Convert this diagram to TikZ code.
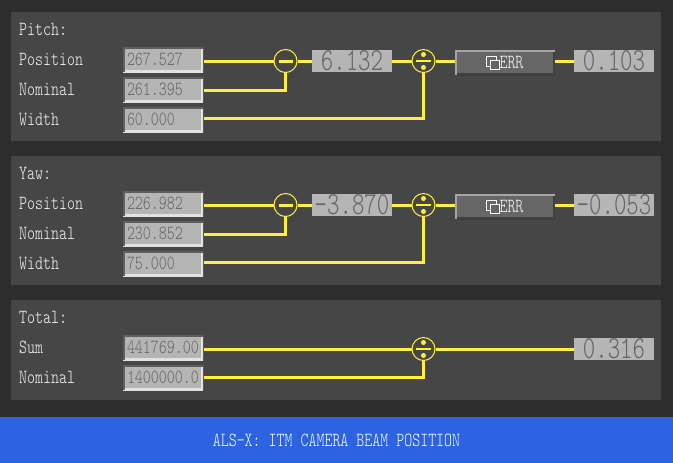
\documentclass[tikz,border=0pt]{standalone}
\usepackage{fontspec}
\newfontfamily\panelfont[FakeStretch=.76]{Latin Modern Mono Light}
\newfontfamily\readoutfont[FakeStretch=.74]{Latin Modern Mono Light}
\definecolor{backdrop}{HTML}{2D2D2D}
\definecolor{panelgray}{HTML}{464646}
\definecolor{fieldgray}{HTML}{B5B5B5}
\definecolor{fieldtext}{HTML}{646464}
\definecolor{edgedark}{HTML}{5E5E5E}
\definecolor{edgelight}{HTML}{E2E2E2}
\definecolor{wireyellow}{HTML}{FFF03C}
\definecolor{bannerblue}{HTML}{2B63E3}
\definecolor{labelwhite}{HTML}{FAFAF2}
\definecolor{buttongray}{HTML}{666666}
\tikzset{
	panel/.style={fill=panelgray,minimum width=650pt,inner sep=0pt,outer sep=0pt},
	label/.style={anchor=west,inner sep=0pt,yshift=.8pt,text=labelwhite,font=\panelfont\fontsize{20}{20}\selectfont},
	field/.style={minimum width=80pt,minimum height=25pt,inner sep=4pt,outer sep=.5pt,fill=fieldgray,
		text=fieldtext,font=\panelfont\fontsize{20}{20}\selectfont,text width=72pt,align=left,
		path picture={
			\draw[edgelight,line width=4pt] (path picture bounding box.north east) -- (path picture bounding box.south east) -- (path picture bounding box.south west);
			\draw[edgedark,line width=4pt] (path picture bounding box.south west) -- (path picture bounding box.north west) -- (path picture bounding box.north east);
		}},
	readout/.style={minimum width=80pt,minimum height=22pt,inner sep=0pt,outer sep=0pt,fill=fieldgray,
		text=fieldtext,text height=18pt,text depth=0pt,font=\readoutfont\fontsize{32}{32}\selectfont},
	errbutton/.style={minimum width=100pt,minimum height=25pt,inner sep=0pt,outer sep=0pt,fill=buttongray,
		text=labelwhite,font=\panelfont\fontsize{20}{20}\selectfont,
		path picture={
			\draw[black!75,line width=4pt] (path picture bounding box.north east) -- (path picture bounding box.south east) -- (path picture bounding box.south west);
			\draw[black!35,line width=3pt] (path picture bounding box.south west) -- (path picture bounding box.north west) -- (path picture bounding box.north east);
			\draw[labelwhite,line width=.9pt] ([shift={(-19,-6.5)}]path picture bounding box.center) rectangle ([shift={(-9,3.5)}]path picture bounding box.center);
			\draw[labelwhite,fill=buttongray,line width=.9pt] ([shift={(-15,-2.5)}]path picture bounding box.center) rectangle ([shift={(-6,6.5)}]path picture bounding box.center);
		}},
	opminus/.style={circle,draw=wireyellow,line width=1pt,minimum size=23pt,inner sep=0pt,
		path picture={
			\draw[wireyellow,line width=3pt] ([xshift=-7pt]path picture bounding box.center) -- ([xshift=7pt]path picture bounding box.center);
		}},
	opdivide/.style={circle,draw=wireyellow,line width=1pt,minimum size=23pt,inner sep=0pt,
		path picture={
			\draw[wireyellow,line width=2.5pt] ([xshift=-7.5pt]path picture bounding box.center) -- ([xshift=7.5pt]path picture bounding box.center);
			\fill[wireyellow] ([yshift=6.5pt]path picture bounding box.center) circle (2.5pt);
			\fill[wireyellow] ([yshift=-6.5pt]path picture bounding box.center) circle (2.5pt);
		}},
	wire/.style={wireyellow,line width=3pt}
}
\begin{document}
\begin{tikzpicture}[x=1pt,y=-1pt]
\useasboundingbox[fill=backdrop] (0,0) rectangle (673,463);

\node[panel,minimum height=129pt] (pitchpanel) at (336,76.5) {};
\node[panel,minimum height=129pt] (yawpanel) at (336,220.5) {};
\node[panel,minimum height=100pt] (totalpanel) at (336,350) {};
\node[fill=bannerblue,minimum width=673pt,minimum height=46pt,inner sep=0pt,outer sep=0pt,text=labelwhite,font=\panelfont\fontsize{20}{20}\selectfont] (banner) at (336.5,440) {ALS-X: ITM CAMERA BEAM POSITION};

\node[label] (pitchtitle) at (19,30) {Pitch:};
\node[label] (pitchposlabel) at (19,60) {Position};
\node[label] (pitchnomlabel) at (19,90) {Nominal};
\node[label] (pitchwidlabel) at (19,120) {Width};
\node[field] (pitchpos) at (163,59.5) {267.527};
\node[field] (pitchnom) at (163,89.5) {261.395};
\node[field] (pitchwid) at (163,119.5) {60.000};
\node[opminus] (pitchminus) at (285.5,61) {};
\node[readout] (pitchdiff) at (352,61) {6.132};
\node[opdivide] (pitchdiv) at (423.5,61) {};
\node[errbutton] (pitcherr) at (505,62.5) {\hspace*{13pt}ERR};
\node[readout] (pitchout) at (614,61) {0.103};
\draw[wire] (pitchpos.east |- pitchminus) -- (pitchminus);
\draw[wire] (pitchminus) -- (pitchdiff);
\draw[wire] (pitchdiff) -- (pitchdiv);
\draw[wire] (pitchdiv) -- (pitcherr.west |- pitchdiv);
\draw[wire] (pitcherr.east |- pitchout) -- (pitchout);
\draw[wire] (pitchnom.east |- 0,90) -| (pitchminus);
\draw[wire] (pitchwid.east |- 0,118) -| (pitchdiv);

\node[label] (yawtitle) at (19,174) {Yaw:};
\node[label] (yawposlabel) at (19,204) {Position};
\node[label] (yawnomlabel) at (19,234) {Nominal};
\node[label] (yawwidlabel) at (19,264) {Width};
\node[field] (yawpos) at (163,203.5) {226.982};
\node[field] (yawnom) at (163,233.5) {230.852};
\node[field] (yawwid) at (163,263.5) {75.000};
\node[opminus] (yawminus) at (285.5,205) {};
\node[readout] (yawdiff) at (352,205) {-3.870};
\node[opdivide] (yawdiv) at (423.5,205) {};
\node[errbutton] (yawerr) at (505,206.5) {\hspace*{13pt}ERR};
\node[readout] (yawout) at (614,205) {-0.053};
\draw[wire] (yawpos.east |- yawminus) -- (yawminus);
\draw[wire] (yawminus) -- (yawdiff);
\draw[wire] (yawdiff) -- (yawdiv);
\draw[wire] (yawdiv) -- (yawerr.west |- yawdiv);
\draw[wire] (yawerr.east |- yawout) -- (yawout);
\draw[wire] (yawnom.east |- 0,234) -| (yawminus);
\draw[wire] (yawwid.east |- 0,262) -| (yawdiv);

\node[label] (totaltitle) at (19,318) {Total:};
\node[label] (totalsumlabel) at (19,348) {Sum};
\node[label] (totalnomlabel) at (19,378) {Nominal};
\node[field] (totalsum) at (163,347.5) {441769.00};
\node[field] (totalnom) at (163,377.5) {1400000.0};
\node[opdivide] (totaldiv) at (423.5,349) {};
\node[readout] (totalout) at (614,349) {0.316};
\draw[wire] (totalsum.east |- totaldiv) -- (totaldiv);
\draw[wire] (totaldiv) -- (totalout);
\draw[wire] (totalnom.east |- 0,377) -| (totaldiv);
\end{tikzpicture}
\end{document}
